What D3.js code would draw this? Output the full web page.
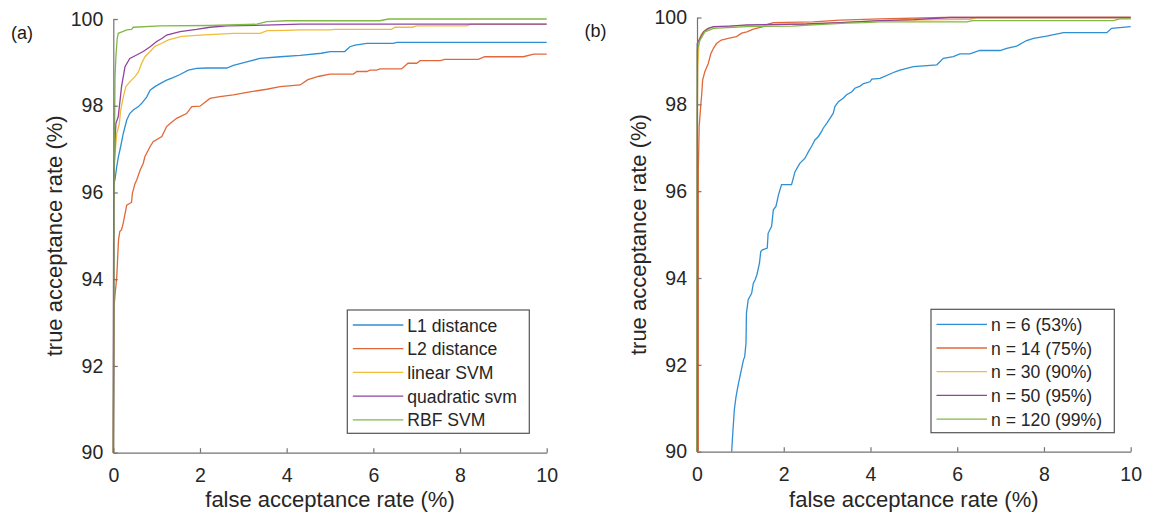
<!DOCTYPE html>
<html>
<head>
<meta charset="utf-8">
<script src="https://cdn.jsdelivr.net/npm/d3@7"></script>
<style>
  body { margin: 0; background: #fff; }
  svg { font-family: "Liberation Sans", Arial, sans-serif; }
</style>
</head>
<body>
<div id="chart"></div>
<script>
// ---- data ----
var xTicks = [0, 2, 4, 6, 8, 10];
var yTicks = [90, 92, 94, 96, 98, 100];

var namesA = ["L1 distance", "L2 distance", "linear SVM", "quadratic svm", "RBF SVM"];
var namesB = ["n = 6 (53%)", "n = 14 (75%)", "n = 30 (90%)", "n = 50 (95%)", "n = 120 (99%)"];
var colors = ["#2f8fd5", "#e2683a", "#f2bb3a", "#8e44a0", "#82b845"];

// panel (a)
var l1 = [[0,90],[0.01,96.2],[0.04,96.3],[0.08,96.6],[0.12,96.83],[0.17,97.06],[0.23,97.36],[0.31,97.67],[0.38,97.82],[0.46,97.9],[0.58,97.98],[0.65,98.05],[0.77,98.2],[0.85,98.36],[0.96,98.44],[1.08,98.51],[1.23,98.59],[1.38,98.65],[1.54,98.72],[1.73,98.82],[1.92,98.86],[2.15,98.87],[2.62,98.87],[2.77,98.93],[3.08,99.01],[3.38,99.09],[3.85,99.13],[4.31,99.16],[4.8,99.21],[5.0,99.25],[5.34,99.25],[5.46,99.36],[5.58,99.4],[5.85,99.44],[6.46,99.44],[6.54,99.46],[10,99.46]];
var l2 = [[0,90],[0.02,93.4],[0.04,93.64],[0.08,94.06],[0.12,94.9],[0.15,95.1],[0.19,95.14],[0.23,95.3],[0.31,95.71],[0.42,95.77],[0.44,95.98],[0.5,96.2],[0.54,96.29],[0.62,96.52],[0.69,96.67],[0.73,96.83],[0.85,97.06],[0.92,97.17],[1.12,97.29],[1.23,97.52],[1.31,97.59],[1.46,97.71],[1.69,97.82],[1.81,97.98],[2.0,97.99],[2.23,98.17],[2.46,98.21],[2.77,98.25],[3.15,98.32],[3.54,98.38],[3.85,98.44],[4.31,98.48],[4.49,98.6],[4.75,98.68],[5.0,98.73],[5.54,98.73],[5.62,98.79],[5.85,98.79],[5.92,98.82],[6.08,98.82],[6.15,98.85],[6.65,98.85],[6.8,98.98],[7.0,98.98],[7.08,99.04],[7.54,99.04],[7.65,99.07],[8.42,99.07],[8.57,99.13],[9.46,99.13],[9.7,99.19],[10,99.19]];
var linSvm = [[0,90],[0.01,96.44],[0.04,96.9],[0.08,97.36],[0.14,97.59],[0.17,97.9],[0.23,98.2],[0.29,98.44],[0.38,98.55],[0.5,98.67],[0.58,98.78],[0.65,98.97],[0.73,99.13],[0.85,99.25],[0.96,99.37],[1.12,99.44],[1.27,99.52],[1.58,99.6],[2.0,99.63],[2.77,99.67],[3.39,99.67],[3.55,99.73],[4.0,99.74],[4.31,99.75],[5.0,99.75],[5.1,99.76],[6.42,99.76],[6.5,99.81],[6.9,99.81],[7.0,99.84],[8.15,99.84],[8.25,99.88],[10,99.88]];
var quadSvm = [[0,90],[0.01,96.13],[0.04,97.21],[0.06,97.59],[0.115,97.75],[0.19,98.44],[0.27,98.9],[0.38,99.09],[0.46,99.13],[0.69,99.25],[0.85,99.36],[1.0,99.48],[1.12,99.55],[1.23,99.63],[1.54,99.71],[1.92,99.76],[2.23,99.81],[2.62,99.84],[3.5,99.86],[4.31,99.88],[10,99.88]];
var rbfSvm = [[0,90],[0.01,93],[0.015,95.83],[0.04,98.67],[0.06,99.13],[0.09,99.55],[0.115,99.67],[0.215,99.71],[0.31,99.75],[0.42,99.76],[0.46,99.81],[1.08,99.84],[2.23,99.85],[3.31,99.88],[3.54,99.94],[4.0,99.96],[6.15,99.96],[6.35,100],[10,100]];

// panel (b)
var n6 = [[0.8,90],[0.82,90.35],[0.86,90.96],[0.9,91.27],[0.95,91.54],[0.99,91.73],[1.03,91.92],[1.07,92.11],[1.1,92.19],[1.13,92.5],[1.14,93.19],[1.18,93.5],[1.26,93.65],[1.3,93.88],[1.34,93.96],[1.38,94.07],[1.44,94.34],[1.47,94.61],[1.51,94.65],[1.62,94.69],[1.64,95.03],[1.72,95.19],[1.76,95.57],[1.82,95.65],[1.88,95.92],[1.95,96.15],[2.18,96.15],[2.26,96.45],[2.37,96.64],[2.49,96.76],[2.57,96.91],[2.64,97.03],[2.72,97.18],[2.8,97.26],[2.87,97.37],[2.91,97.45],[2.99,97.56],[3.07,97.68],[3.14,97.79],[3.18,97.95],[3.26,98.06],[3.37,98.14],[3.45,98.22],[3.57,98.29],[3.64,98.37],[3.76,98.42],[3.84,98.48],[3.99,98.52],[4.03,98.58],[4.22,98.6],[4.57,98.75],[4.68,98.79],[4.99,98.87],[5.53,98.91],[5.68,99.06],[5.91,99.1],[6.06,99.16],[6.29,99.16],[6.52,99.24],[6.99,99.24],[7.14,99.29],[7.37,99.34],[7.6,99.47],[7.76,99.52],[8.06,99.57],[8.45,99.65],[9.45,99.65],[9.56,99.75],[10,99.79]];
var n14 = [[0.03,90],[0.03,96.5],[0.04,96.95],[0.05,97.49],[0.085,97.95],[0.11,98.25],[0.13,98.56],[0.18,98.75],[0.26,98.94],[0.32,99.17],[0.38,99.29],[0.45,99.4],[0.56,99.48],[0.72,99.52],[0.91,99.56],[1.03,99.64],[1.15,99.67],[1.3,99.73],[1.53,99.79],[1.64,99.85],[1.76,99.88],[2.68,99.9],[3.3,99.94],[4.22,99.97],[5.7,100],[10,100]];
var n30 = [[0,90],[0.01,97.9],[0.02,98.9],[0.05,99.5],[0.1,99.62],[0.2,99.72],[0.35,99.78],[0.7,99.8],[1.2,99.82],[2.5,99.85],[3.3,99.88],[4.2,99.93],[5.8,99.95],[6.3,99.96],[6.45,100],[10,100]];
var n50 = [[0,90],[0.005,99.4],[0.07,99.52],[0.15,99.67],[0.26,99.75],[0.38,99.79],[0.76,99.8],[1.15,99.83],[2.53,99.85],[3.3,99.88],[4.22,99.93],[5.0,99.95],[5.83,100],[10,100]];
var n120 = [[0,90],[0.005,99.25],[0.07,99.48],[0.18,99.67],[0.38,99.75],[1.15,99.79],[2.2,99.8],[2.68,99.83],[3.45,99.87],[3.84,99.88],[4.22,99.9],[6.22,99.9],[6.36,99.93],[9.6,99.93],[9.75,99.97],[10,99.97]];

var width = 1154;
var height = 516;

var svg = d3.select("#chart")
  .append("svg")
  .attr("width", width)
  .attr("height", height);

function drawPanel(p){
  var x = d3.scaleLinear().domain([0, 10]).range([p.left, p.right]);
  var y = d3.scaleLinear().domain([90, 100]).range([p.bottom, p.top]);
  var g = svg.append("g");

  var line = d3.line()
    .x(function(d){ return x(d[0]); })
    .y(function(d){ return y(d[1]); });

  for(var i=0; i<p.series.length; i++){
    g.append("path")
      .attr("d", line(p.series[i]))
      .attr("fill", "none")
      .attr("stroke", colors[i])
      .attr("stroke-width", 1.3);
  }

  // axes, ticks pointing in
  var xAxis = g.append("g")
    .attr("transform", "translate(0," + p.bottom + ")")
    .call(d3.axisBottom(x).tickValues(xTicks).tickSize(-4.5).tickSizeOuter(0).tickPadding(15.5));
  var yAxis = g.append("g")
    .attr("transform", "translate(" + p.left + ",0)")
    .call(d3.axisLeft(y).tickValues(yTicks).tickSize(-4.5).tickSizeOuter(0).tickPadding(10));

  [xAxis, yAxis].forEach(function(a){
    a.select(".domain").attr("stroke", "#737373").attr("stroke-width", 1.2);
    a.selectAll(".tick line").attr("stroke", "#737373").attr("stroke-width", 1.2);
    a.selectAll(".tick text")
      .attr("fill", "#262626")
      .style("font-size", "19.5px")
      .style("font-family", "'Liberation Sans', Arial, sans-serif");
  });

  g.append("text")
    .attr("x", (p.left + p.right) / 2)
    .attr("y", 507)
    .attr("text-anchor", "middle")
    .attr("fill", "#262626")
    .style("font-size", "22px")
    .text("false acceptance rate (%)");

  g.append("text")
    .attr("transform", "translate(" + (p.left - 51) + "," + ((p.top + p.bottom) / 2) + ") rotate(-90)")
    .attr("text-anchor", "middle")
    .attr("fill", "#262626")
    .style("font-size", "22px")
    .text("true acceptance rate (%)");

  g.append("text")
    .attr("x", p.tagX)
    .attr("y", p.tagY)
    .attr("fill", "#1a1a1a")
    .style("font-size", "18px")
    .text(p.tag);

  // legend
  var lg = p.legend;
  g.append("rect")
    .attr("x", lg.x).attr("y", lg.y)
    .attr("width", lg.w).attr("height", lg.h)
    .attr("fill", "#fff")
    .attr("stroke", "#555")
    .attr("stroke-width", 1.2);
  for(var j=0; j<p.names.length; j++){
    var ly = lg.y + 15 + j * 23.7;
    g.append("line")
      .attr("x1", lg.x + 5.5).attr("x2", lg.x + 56)
      .attr("y1", ly).attr("y2", ly)
      .attr("stroke", colors[j])
      .attr("stroke-width", 1.3);
    g.append("text")
      .attr("x", lg.x + 60)
      .attr("y", ly + 6.5)
      .attr("fill", "#262626")
      .style("font-size", "17.6px")
      .text(p.names[j]);
  }
}

drawPanel({
  left: 113.3, right: 546.7, top: 19, bottom: 452.7,
  series: [l1, l2, linSvm, quadSvm, rbfSvm],
  names: namesA,
  tag: "(a)", tagX: 11, tagY: 39,
  legend: {x: 347.3, y: 310, w: 182, h: 123.3}
});

drawPanel({
  left: 697, right: 1130.7, top: 17.5, bottom: 451.7,
  series: [n6, n14, n30, n50, n120],
  names: namesB,
  tag: "(b)", tagX: 584.5, tagY: 37,
  legend: {x: 931, y: 309.3, w: 183.3, h: 123.4}
});
</script>
</body>
</html>
